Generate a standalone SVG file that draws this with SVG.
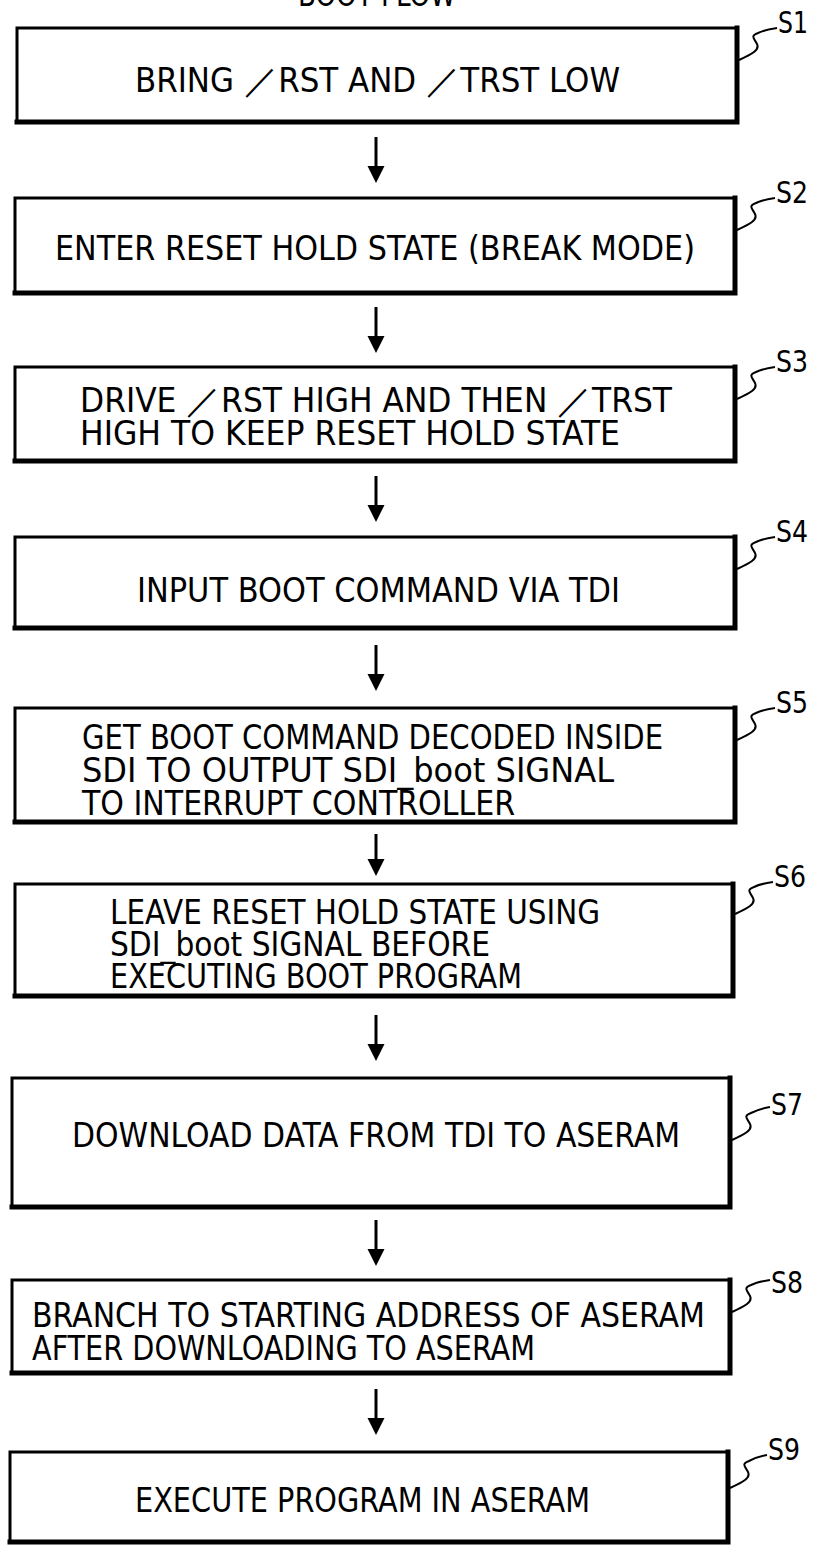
<svg xmlns="http://www.w3.org/2000/svg" width="813" height="1547" viewBox="0 0 813 1547">
<defs>
<style>
.box{fill:#fff;stroke:#000;stroke-width:3}
.sh{fill:none;stroke:#000;stroke-width:5;stroke-linecap:square}
.t{font-family:"Liberation Sans Narrow","DejaVu Sans Condensed","DejaVu Sans","Liberation Sans",sans-serif;font-size:33px;fill:#000}
.lbl{font-family:"Liberation Sans Narrow","DejaVu Sans Condensed","DejaVu Sans","Liberation Sans",sans-serif;font-size:31px;fill:#000}
.lead{fill:none;stroke:#000;stroke-width:2}
.shaft{stroke:#000;stroke-width:3}
</style>
</defs>
<rect width="813" height="1547" fill="#fff"/>
<text class="t" x="298" y="6" textLength="158" lengthAdjust="spacingAndGlyphs">BOOT FLOW</text>

<g id="S1">
<rect class="box" x="17" y="28" width="720" height="94"/>
<polyline class="sh" points="737,28 737,122 17,122"/>
<text class="t" x="135" y="92" textLength="485" lengthAdjust="spacingAndGlyphs">BRING ／RST AND ／TRST LOW</text>
<path class="lead" d="M739,60 C752,54 760,50 757,44 C754,38 750,36 758,33 C764,30 770,29 777,28"/>
<text class="lbl" x="778" y="33" textLength="30" lengthAdjust="spacingAndGlyphs">S1</text>
</g>

<g id="S2">
<rect class="box" x="15" y="198" width="720" height="95"/>
<polyline class="sh" points="735,198 735,293 15,293"/>
<text class="t" x="55" y="260" textLength="640" lengthAdjust="spacingAndGlyphs">ENTER RESET HOLD STATE (BREAK MODE)</text>
<path class="lead" d="M737,230 C750,224 758,220 755,214 C752,208 748,206 756,203 C762,200 768,199 775,198"/>
<text class="lbl" x="776" y="203" textLength="32" lengthAdjust="spacingAndGlyphs">S2</text>
</g>

<g id="S3">
<rect class="box" x="15" y="367" width="720" height="94"/>
<polyline class="sh" points="735,367 735,461 15,461"/>
<text class="t" x="80" y="412" textLength="592" lengthAdjust="spacingAndGlyphs">DRIVE ／RST HIGH AND THEN ／TRST</text>
<text class="t" x="80" y="445" textLength="540" lengthAdjust="spacingAndGlyphs">HIGH TO KEEP RESET HOLD STATE</text>
<path class="lead" d="M737,399 C750,393 758,389 755,383 C752,377 748,375 756,372 C762,369 768,368 775,367"/>
<text class="lbl" x="776" y="372" textLength="32" lengthAdjust="spacingAndGlyphs">S3</text>
</g>

<g id="S4">
<rect class="box" x="15" y="537" width="720" height="91"/>
<polyline class="sh" points="735,537 735,628 15,628"/>
<text class="t" x="137" y="602" textLength="483" lengthAdjust="spacingAndGlyphs">INPUT BOOT COMMAND VIA TDI</text>
<path class="lead" d="M737,569 C750,563 758,559 755,553 C752,547 748,545 756,542 C762,539 768,538 775,537"/>
<text class="lbl" x="776" y="542" textLength="32" lengthAdjust="spacingAndGlyphs">S4</text>
</g>

<g id="S5">
<rect class="box" x="15" y="708" width="720" height="114"/>
<polyline class="sh" points="735,708 735,822 15,822"/>
<text class="t" x="82" y="749" textLength="581" lengthAdjust="spacingAndGlyphs">GET BOOT COMMAND DECODED INSIDE</text>
<text class="t" x="82" y="782" textLength="532" lengthAdjust="spacingAndGlyphs">SDI TO OUTPUT SDI_boot SIGNAL</text>
<text class="t" x="82" y="815" textLength="433" lengthAdjust="spacingAndGlyphs">TO INTERRUPT CONTROLLER</text>
<path class="lead" d="M737,740 C750,734 758,730 755,724 C752,718 748,716 756,713 C762,710 768,709 775,708"/>
<text class="lbl" x="776" y="713" textLength="32" lengthAdjust="spacingAndGlyphs">S5</text>
</g>

<g id="S6">
<rect class="box" x="15" y="884" width="718" height="112"/>
<polyline class="sh" points="733,884 733,996 15,996"/>
<text class="t" x="110" y="924" textLength="490" lengthAdjust="spacingAndGlyphs">LEAVE RESET HOLD STATE USING</text>
<text class="t" x="110" y="956" textLength="380" lengthAdjust="spacingAndGlyphs">SDI_boot SIGNAL BEFORE</text>
<text class="t" x="110" y="988" textLength="412" lengthAdjust="spacingAndGlyphs">EXECUTING BOOT PROGRAM</text>
<path class="lead" d="M735,914 C748,908 756,904 753,898 C750,892 746,890 754,887 C760,884 766,883 773,882"/>
<text class="lbl" x="774" y="887" textLength="32" lengthAdjust="spacingAndGlyphs">S6</text>
</g>

<g id="S7">
<rect class="box" x="12" y="1078" width="718" height="129"/>
<polyline class="sh" points="730,1078 730,1207 12,1207"/>
<text class="t" x="72" y="1147" textLength="608" lengthAdjust="spacingAndGlyphs">DOWNLOAD DATA FROM TDI TO ASERAM</text>
<path class="lead" d="M732,1140 C745,1134 753,1130 750,1124 C747,1118 743,1116 751,1113 C757,1110 763,1108 770,1107"/>
<text class="lbl" x="771" y="1115" textLength="32" lengthAdjust="spacingAndGlyphs">S7</text>
</g>

<g id="S8">
<rect class="box" x="12" y="1280" width="718" height="93"/>
<polyline class="sh" points="730,1280 730,1373 12,1373"/>
<text class="t" x="32" y="1327" textLength="673" lengthAdjust="spacingAndGlyphs">BRANCH TO STARTING ADDRESS OF ASERAM</text>
<text class="t" x="32" y="1360" textLength="503" lengthAdjust="spacingAndGlyphs">AFTER DOWNLOADING TO ASERAM</text>
<path class="lead" d="M732,1312 C745,1306 753,1302 750,1296 C747,1290 743,1288 751,1285 C757,1282 763,1281 770,1280"/>
<text class="lbl" x="771" y="1293" textLength="32" lengthAdjust="spacingAndGlyphs">S8</text>
</g>

<g id="S9">
<rect class="box" x="10" y="1452" width="718" height="90"/>
<polyline class="sh" points="728,1452 728,1542 10,1542"/>
<text class="t" x="135" y="1512" textLength="455" lengthAdjust="spacingAndGlyphs">EXECUTE PROGRAM IN ASERAM</text>
<path class="lead" d="M730,1488 C743,1482 751,1478 748,1472 C745,1466 741,1464 749,1461 C755,1458 761,1456 767,1455"/>
<text class="lbl" x="768" y="1460" textLength="32" lengthAdjust="spacingAndGlyphs">S9</text>
</g>

<g id="connectors">
<line class="shaft" x1="376" y1="137" x2="376" y2="170"/><polygon points="367.5,166 384.5,166 376,183"/>
<line class="shaft" x1="376" y1="307" x2="376" y2="340"/><polygon points="367.5,336 384.5,336 376,353"/>
<line class="shaft" x1="376" y1="476" x2="376" y2="509"/><polygon points="367.5,505 384.5,505 376,522"/>
<line class="shaft" x1="376" y1="645" x2="376" y2="678"/><polygon points="367.5,674 384.5,674 376,691"/>
<line class="shaft" x1="376" y1="834" x2="376" y2="863"/><polygon points="367.5,859 384.5,859 376,876"/>
<line class="shaft" x1="376" y1="1015" x2="376" y2="1048"/><polygon points="367.5,1044 384.5,1044 376,1061"/>
<line class="shaft" x1="376" y1="1220" x2="376" y2="1253"/><polygon points="367.5,1249 384.5,1249 376,1266"/>
<line class="shaft" x1="376" y1="1389" x2="376" y2="1422"/><polygon points="367.5,1418 384.5,1418 376,1435"/>
</g>
</svg>
